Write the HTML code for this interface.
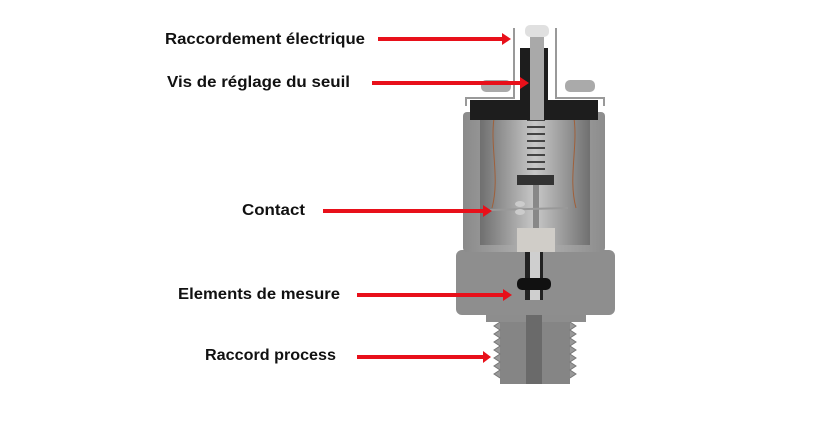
<!DOCTYPE html><html><head><style>body{margin:0;background:#fff}svg{display:block}text{font-family:"Liberation Sans",sans-serif;font-weight:bold;font-size:16px;fill:#111}</style></head><body>
<svg width="838" height="430" viewBox="0 0 838 430">
<defs>
<linearGradient id="g" x1="0" x2="1"><stop offset="0" stop-color="#8a8a8a"/><stop offset=".5" stop-color="#b4b4b4"/><stop offset="1" stop-color="#8c8c8c"/></linearGradient>
<linearGradient id="in" x1="0" x2="1"><stop offset="0" stop-color="#6f6f6f"/><stop offset=".5" stop-color="#c8c8c8"/><stop offset="1" stop-color="#707070"/></linearGradient>
</defs>
<rect x="500" y="318" width="70" height="66" fill="#858585"/>
<path d="M500 322 l-6 4 6 4 -6 4 6 4 -6 4 6 4 -6 4 6 4 -6 4 6 4 -6 4 6 4 -6 4 6 4" fill="#999" stroke="#777"/>
<path d="M570 322 l6 4 -6 4 6 4 -6 4 6 4 -6 4 6 4 -6 4 6 4 -6 4 6 4 -6 4 6 4 -6 4" fill="#999" stroke="#777"/>
<rect x="486" y="312" width="100" height="10" fill="#8d8d8d"/>
<rect x="526" y="300" width="16" height="84" fill="#6a6a6a"/>
<rect x="456" y="250" width="159" height="65" rx="6" fill="#8e8e8e"/>
<rect x="525" y="250" width="18" height="50" fill="#222"/>
<rect x="530" y="245" width="10" height="55" fill="#cfcfcf"/>
<rect x="517" y="278" width="34" height="12" rx="5" fill="#111"/>
<rect x="463" y="112" width="142" height="140" rx="4" fill="url(#g)"/>
<rect x="480" y="118" width="110" height="127" fill="url(#in)"/>
<path d="M494 118 c-4 30 6 60 -2 90" stroke="#a0603a" fill="none"/>
<path d="M574 118 c4 30 -6 60 2 90" stroke="#a0603a" fill="none"/>
<rect x="530" y="35" width="14" height="85" fill="#b5b5b5"/>
<g stroke="#444" stroke-width="2"><line x1="527" y1="120" x2="545" y2="120"/><line x1="527" y1="127" x2="545" y2="127"/><line x1="527" y1="134" x2="545" y2="134"/><line x1="527" y1="141" x2="545" y2="141"/><line x1="527" y1="148" x2="545" y2="148"/><line x1="527" y1="155" x2="545" y2="155"/><line x1="527" y1="162" x2="545" y2="162"/><line x1="527" y1="169" x2="545" y2="169"/></g>
<rect x="517" y="175" width="37" height="10" fill="#333"/>
<rect x="533" y="185" width="6" height="45" fill="#888"/>
<line x1="490" y1="210" x2="568" y2="208" stroke="#999" stroke-width="2"/>
<ellipse cx="520" cy="204" rx="5" ry="3" fill="#ccc"/><ellipse cx="520" cy="212" rx="5" ry="3" fill="#ccc"/>
<rect x="517" y="228" width="38" height="24" fill="#d0cdc8"/>
<path d="M470 100 h50 v-52 h28 v52 h50 v20 h-128z" fill="#1d1d1d"/>
<rect x="530" y="30" width="14" height="90" fill="#a9a9a9"/>
<rect x="525" y="25" width="24" height="12" rx="5" fill="#e0e0e0"/>
<path d="M466 106 v-8 h48 v-70" stroke="#999" stroke-width="2" fill="none"/>
<path d="M604 106 v-8 h-48 v-70" stroke="#999" stroke-width="2" fill="none"/>
<rect x="481" y="80" width="30" height="12" rx="5" fill="#aaa"/>
<rect x="565" y="80" width="30" height="12" rx="5" fill="#aaa"/>
<g fill="#e8101a">
<rect x="378" y="37" width="126" height="4"/><path d="M502 33 l9 6 -9 6z"/>
<rect x="372" y="81" width="150" height="4"/><path d="M520 77 l9 6 -9 6z"/>
<rect x="323" y="209" width="162" height="4"/><path d="M483 205 l9 6 -9 6z"/>
<rect x="357" y="293" width="148" height="4"/><path d="M503 289 l9 6 -9 6z"/>
<rect x="357" y="355" width="128" height="4"/><path d="M483 351 l8 6 -8 6z"/>
</g>
<text x="165" y="44" textLength="200" lengthAdjust="spacingAndGlyphs">Raccordement électrique</text>
<text x="167" y="87" textLength="183" lengthAdjust="spacingAndGlyphs">Vis de réglage du seuil</text>
<text x="242" y="215" textLength="63" lengthAdjust="spacingAndGlyphs">Contact</text>
<text x="178" y="299" textLength="162" lengthAdjust="spacingAndGlyphs">Elements de mesure</text>
<text x="205" y="360" textLength="131" lengthAdjust="spacingAndGlyphs">Raccord process</text>
</svg></body></html>
